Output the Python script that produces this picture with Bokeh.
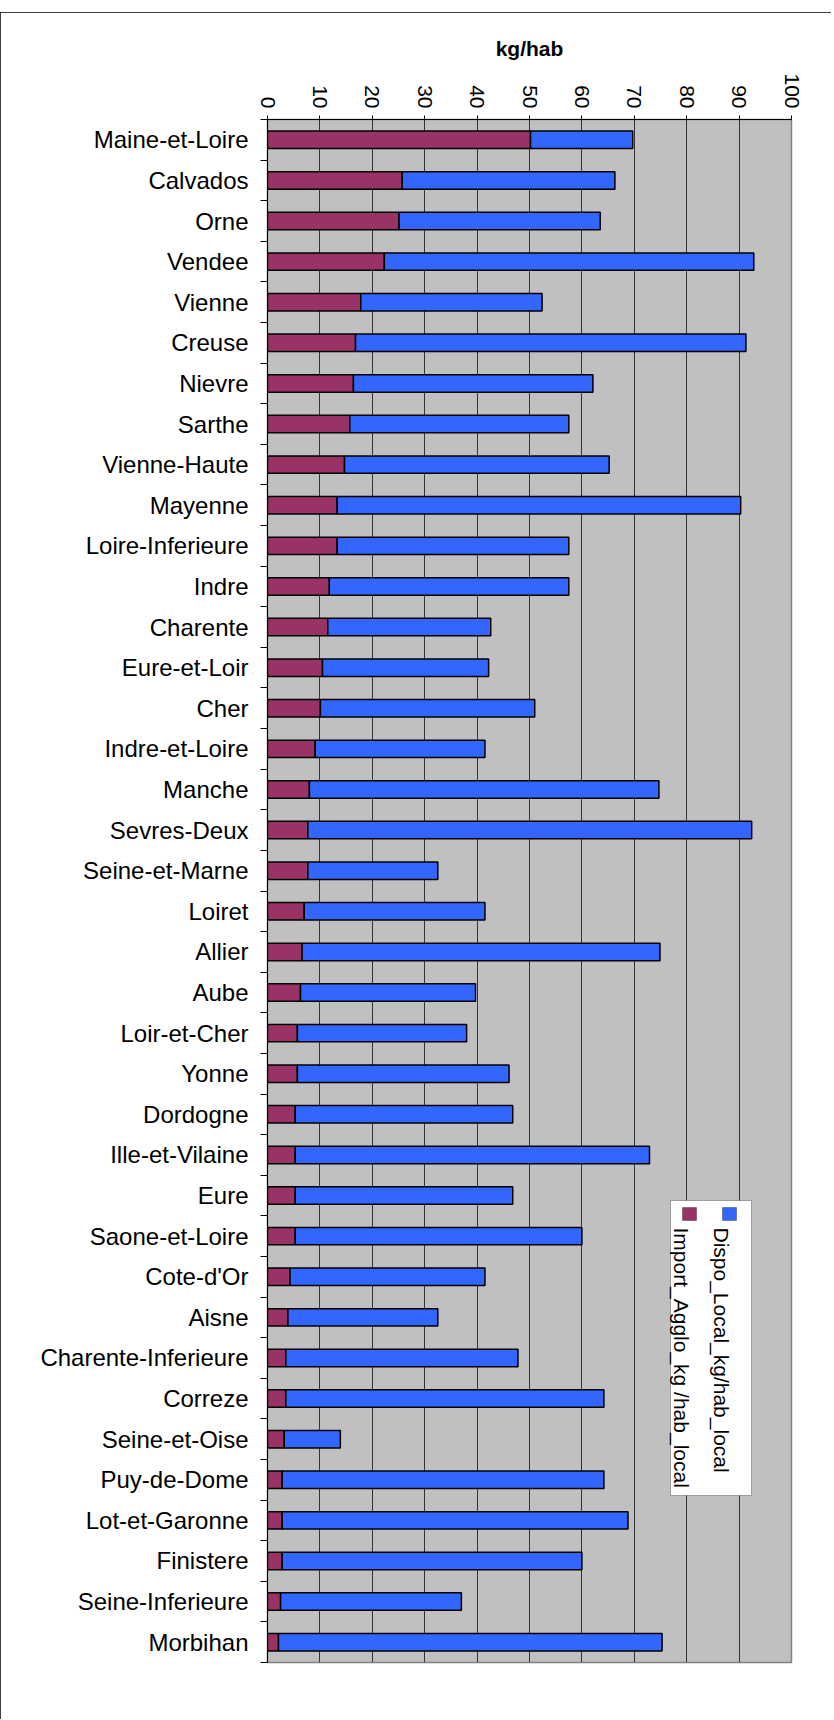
import math
from bokeh.plotting import figure
from bokeh.models import (ColumnDataSource, Range1d, LinearAxis, FixedTicker,
                          CustomJSTickFormatter, BoxAnnotation, Label)
from bokeh.embed import file_html
from bokeh.resources import INLINE

# ---------------- data ----------------
categories = [
    "Maine-et-Loire", "Calvados", "Orne", "Vendee", "Vienne", "Creuse", "Nievre", "Sarthe",
    "Vienne-Haute", "Mayenne", "Loire-Inferieure", "Indre", "Charente", "Eure-et-Loir", "Cher",
    "Indre-et-Loire", "Manche", "Sevres-Deux", "Seine-et-Marne", "Loiret", "Allier", "Aube",
    "Loir-et-Cher", "Yonne", "Dordogne", "Ille-et-Vilaine", "Eure", "Saone-et-Loire",
    "Cote-d'Or", "Aisne", "Charente-Inferieure", "Correze", "Seine-et-Oise", "Puy-de-Dome",
    "Lot-et-Garonne", "Finistere", "Seine-Inferieure", "Morbihan",
]
import_agglo = [
    50.2, 25.7, 25.1, 22.3, 17.8, 16.8, 16.4, 15.7,
    14.7, 13.3, 13.3, 11.8, 11.5, 10.5, 10.1,
    9.1, 8.0, 7.7, 7.7, 7.0, 6.6, 6.3,
    5.7, 5.7, 5.3, 5.3, 5.3, 5.3,
    4.3, 3.9, 3.5, 3.5, 3.2, 2.8,
    2.8, 2.8, 2.5, 2.1,
]
dispo_local = [
    19.5, 40.6, 38.4, 70.5, 34.6, 74.5, 45.7, 41.8,
    50.5, 77.0, 44.2, 45.7, 31.1, 31.7, 40.9,
    32.4, 66.7, 84.7, 24.8, 34.5, 68.3, 33.4,
    32.3, 40.4, 41.5, 67.6, 41.5, 54.7,
    37.2, 28.6, 44.3, 60.7, 10.7, 61.4,
    66.0, 57.2, 34.5, 73.2,
]
series_names = ["Import_Agglo_kg /hab_local", "Dispo_Local_kg/hab_local"]
series_colors = ["#993366", "#3366FF"]
x_ticks = [0, 10, 20, 30, 40, 50, 60, 70, 80, 90, 100]
x_title = "kg/hab"

# ---------------- figure ----------------
n = len(categories)
ypos = [i + 0.5 for i in range(n)]          # category slot centres (top to bottom)
source = ColumnDataSource(dict(cat=categories, y=ypos, imp=import_agglo, dispo=dispo_local))

p = figure(
    width=831, height=1707,
    y_range=Range1d(n, 0),
    x_range=Range1d(0, 100),
    x_axis_location="above", y_axis_location=None,
    output_backend="svg", toolbar_location=None,
    min_border_left=267, min_border_right=40, min_border_top=107, min_border_bottom=57,
    styles={"margin-top": "12px", "outline": "1.5px solid black", "outline-offset": "-1.5px"},
)
p.background_fill_color = "#C0C0C0"
p.border_fill_color = "white"
p.outline_line_color = "#808080"
p.outline_line_width = 1.5

p.hbar_stack(["imp", "dispo"], y="y", height=0.43, source=source,
             fill_color=series_colors, line_color="black", line_width=1.5)

# x axis (above)
xa = p.xaxis[0]
xa.ticker = FixedTicker(ticks=x_ticks)
xa.minor_tick_line_color = None
xa.major_tick_in = 0
xa.major_tick_out = 4
xa.major_tick_line_color = "black"
xa.axis_line_color = "black"
xa.major_label_orientation = -math.pi / 2
xa.major_label_text_font = "Liberation Sans"
xa.major_label_text_font_size = "21px"
xa.major_label_text_color = "black"
xa.major_label_standoff = 7
xa.axis_label = x_title
xa.axis_label_text_font = "Liberation Sans"
xa.axis_label_text_font_style = "bold"
xa.axis_label_text_font_size = "21px"
xa.axis_label_text_color = "black"
xa.axis_label_standoff = 10

p.xgrid.grid_line_color = "#333333"
p.xgrid.grid_line_width = 1
p.xgrid.ticker = FixedTicker(ticks=x_ticks)
p.ygrid.grid_line_color = None

# left: boundary tick axis (inner) + category label axis (outer)
tick_axis = LinearAxis(
    ticker=FixedTicker(ticks=list(range(n + 1))),
    formatter=CustomJSTickFormatter(code="return ''"),
    major_tick_in=0, major_tick_out=7, major_tick_line_color="black",
    minor_tick_line_color=None, axis_line_color="black",
    major_label_standoff=0, major_label_text_font_size="1px",
)
p.add_layout(tick_axis, "left")

cat_axis = LinearAxis(
    ticker=FixedTicker(ticks=ypos),
    formatter=CustomJSTickFormatter(args=dict(names=categories),
                                    code="return names[Math.floor(tick)]"),
    major_tick_line_color=None, minor_tick_line_color=None, axis_line_color=None,
    major_label_text_font="Liberation Sans", major_label_text_font_size="24px",
    major_label_text_color="black", major_label_standoff=6,
)
p.add_layout(cat_axis, "left")

# custom legend (rotated texts) -- canvas coordinates
p.add_layout(BoxAnnotation(left=670, right=751, top=1188, bottom=1483,
                           left_units="canvas", right_units="canvas",
                           top_units="canvas", bottom_units="canvas",
                           fill_color="white", fill_alpha=1, line_color="black", line_width=1))
leg_x = [682, 722]
for name, col, lx in zip(series_names, series_colors, leg_x):
    p.add_layout(BoxAnnotation(left=lx, right=lx + 14, top=1195, bottom=1208,
                               left_units="canvas", right_units="canvas",
                               top_units="canvas", bottom_units="canvas",
                               fill_color=col, fill_alpha=1, line_color="black", line_width=1))
    p.add_layout(Label(x=lx - 1, y=1215, x_units="canvas", y_units="canvas", text=name,
                       angle=-math.pi / 2, text_align="left", text_baseline="alphabetic",
                       text_font="Liberation Sans", text_font_size="21px", text_color="black"))

open("out.html", "w").write(file_html(p, INLINE))
